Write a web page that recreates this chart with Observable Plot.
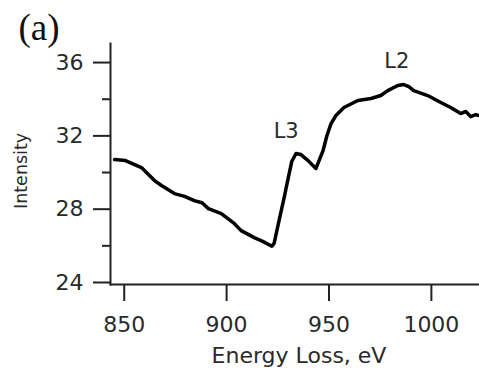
<!DOCTYPE html>
<html>
<head>
<meta charset="utf-8">
<script src="https://cdn.jsdelivr.net/npm/d3@7"></script>
<script src="https://cdn.jsdelivr.net/npm/@observablehq/plot@0.6"></script>
<style>
  html, body { margin: 0; padding: 0; background: #fff; }
  #chart svg { display: block; }
</style>
</head>
<body>
<div id="chart"></div>
<script>
// Energy loss (eV) and intensity
const energy = [845.3, 850.6, 858.4, 864.8, 868.2, 874.5, 879.5, 884.2, 888.0, 891.1, 897.4, 903.7, 907.1, 913.5, 917.9, 922.1,
  923.2, 925.6, 928.1, 930.0, 931.8, 933.9, 936.3, 939.8, 943.6, 947.1, 949.0, 951.0, 953.4, 957.3, 964.1, 970.5,
  975.3, 978.7, 983.6, 986.5, 989.0, 991.4, 998.2, 1004.6, 1009.4, 1014.3, 1016.8, 1019.2, 1021.7, 1023.1];
const intensity = [30.71, 30.65, 30.27, 29.56, 29.29, 28.85, 28.70, 28.47, 28.35, 28.03, 27.76, 27.22, 26.83, 26.45, 26.23, 25.98,
  26.13, 27.38, 28.63, 29.65, 30.60, 31.04, 30.98, 30.65, 30.22, 31.20, 32.02, 32.67, 33.11, 33.55, 33.93, 34.04,
  34.20, 34.47, 34.75, 34.80, 34.69, 34.47, 34.20, 33.82, 33.55, 33.22, 33.33, 33.05, 33.16, 33.11];

const xTicks = [850, 900, 950, 1000];
const yTicks = [24, 28, 32, 36];
const yMinorTicks = [26, 30, 34];
const xDomain = [843.3, 1023.5];
const yDomain = [23.89, 37.04];

const peakLabels = ["L3", "L2"];
const peakEnergy = [929.1, 983.1];
const peakIntensity = [32.24, 36.05];

const xLabel = "Energy Loss, eV";
const yLabel = "Intensity";
const panelLabel = "(a)";

const data = energy.map((e, i) => ({e, v: intensity[i]}));
const peaks = peakLabels.map((t, i) => ({t, e: peakEnergy[i], v: peakIntensity[i]}));

const ink = "#222";
const textInk = "#2a2a2a";

const chart = Plot.plot({
  width: 479,
  height: 371,
  marginLeft: 110,
  marginRight: 0,
  marginTop: 43,
  marginBottom: 87,
  style: {fontFamily: "DejaVu Sans", fontSize: "22px", color: textInk, background: "#fff"},
  x: {domain: xDomain},
  y: {domain: yDomain},
  marks: [
    Plot.axisY(yMinorTicks, {tickSize: 8, strokeWidth: 2, stroke: ink, text: null, label: null}),
    Plot.axisY(yTicks, {tickSize: 17, tickPadding: 10, strokeWidth: 2, stroke: ink, fill: textInk, fontSize: 22, label: null}),
    Plot.axisX(xTicks, {tickSize: 17, tickPadding: 15, strokeWidth: 2, stroke: ink, fill: textInk, fontSize: 22, label: null, tickFormat: "d"}),
    Plot.frame({anchor: "left", stroke: ink, strokeWidth: 2}),
    Plot.frame({anchor: "bottom", stroke: ink, strokeWidth: 2}),
    Plot.line(data, {x: "e", y: "v", stroke: "#000", strokeWidth: 3.5, strokeLinejoin: "round", strokeLinecap: "round"}),
    Plot.text(peaks, {x: "e", y: "v", text: "t", fill: textInk, fontSize: 21}),
    Plot.text([xLabel], {frameAnchor: "bottom", dx: 4, dy: 78, fill: textInk, fontSize: 22}),
    Plot.text([yLabel], {frameAnchor: "left", textAnchor: "start", rotate: -90, dx: -89, dy: 45, fill: textInk, fontSize: 17.5}),
    Plot.text([panelLabel], {frameAnchor: "top-left", textAnchor: "start", dx: -92, dy: -30, fill: "#111", fontSize: 37, fontFamily: "Liberation Serif"})
  ]
});
document.getElementById("chart").appendChild(chart);
</script>
</body>
</html>
